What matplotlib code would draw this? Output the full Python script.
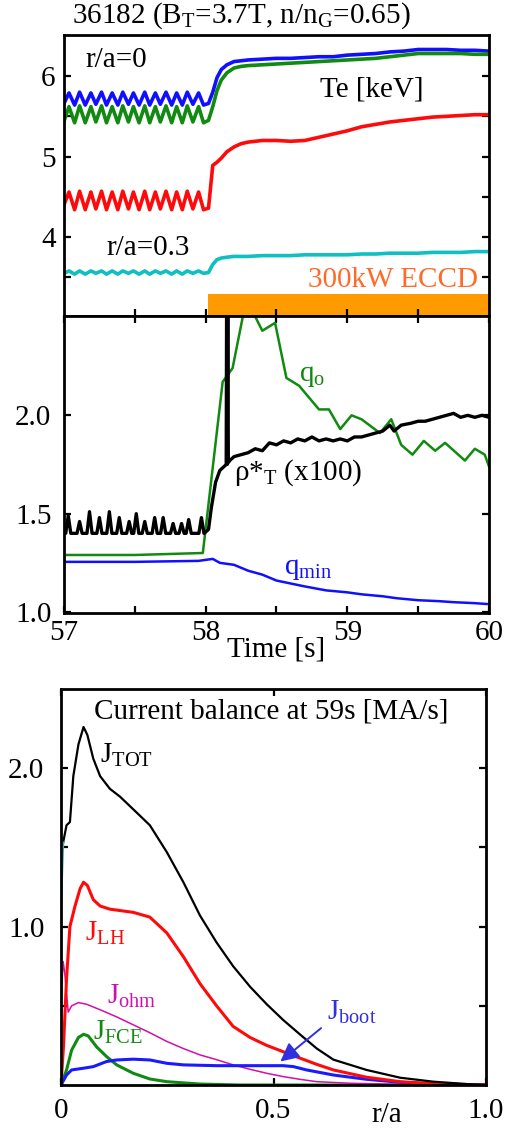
import numpy as np
import matplotlib
matplotlib.use("Agg")
import matplotlib.pyplot as plt

plt.rcParams['font.family'] = ['Liberation Serif', 'DejaVu Serif']
plt.rcParams['mathtext.fontset'] = 'custom'
plt.rcParams['mathtext.rm'] = 'Liberation Serif'
plt.rcParams['mathtext.it'] = 'Liberation Serif:italic'

# ---- top panel: Te traces [keV] ----
# sawtooth period before ECCD (troughs / peaks alternate)
t_osc = [57.000, 57.035, 57.075, 57.110, 57.150, 57.190, 57.225, 57.265, 57.300,
         57.340, 57.380, 57.415, 57.455, 57.490, 57.530, 57.570, 57.605, 57.645,
         57.680, 57.720, 57.760, 57.795, 57.835, 57.870, 57.910, 57.950, 57.985]
te_blue_osc = [5.66, 5.79, 5.64, 5.80, 5.64, 5.79, 5.65, 5.80, 5.64, 5.79, 5.64, 5.80, 5.65, 5.79,
               5.64, 5.80, 5.64, 5.79, 5.65, 5.80, 5.64, 5.79, 5.64, 5.80, 5.65, 5.79, 5.64]
te_green_osc = [5.44, 5.62, 5.42, 5.63, 5.42, 5.62, 5.43, 5.63, 5.42, 5.62, 5.42, 5.63, 5.43, 5.62,
                5.42, 5.63, 5.42, 5.62, 5.43, 5.63, 5.42, 5.62, 5.42, 5.63, 5.43, 5.62, 5.42]
te_red_osc = [4.40, 4.56, 4.34, 4.57, 4.34, 4.56, 4.35, 4.57, 4.34, 4.56, 4.34, 4.57, 4.35, 4.56,
              4.34, 4.57, 4.34, 4.56, 4.35, 4.57, 4.34, 4.56, 4.34, 4.57, 4.35, 4.56, 4.34]
te_cyan_osc = [3.55, 3.58, 3.54, 3.58, 3.54, 3.58, 3.55, 3.58, 3.54, 3.58, 3.54, 3.58, 3.55, 3.58,
               3.54, 3.58, 3.54, 3.58, 3.55, 3.58, 3.54, 3.58, 3.54, 3.58, 3.55, 3.58, 3.55]

t_post = [58.02, 58.05, 58.08, 58.11, 58.15, 58.20, 58.25, 58.30, 58.40, 58.50, 58.60, 58.70,
          58.80, 58.90, 59.00, 59.10, 59.20, 59.30, 59.40, 59.50, 59.60, 59.70, 59.80, 59.90, 60.00]
te_blue_post = [5.66, 5.80, 5.98, 6.08, 6.14, 6.18, 6.19, 6.20, 6.21, 6.22, 6.22, 6.23, 6.24,
                6.24, 6.26, 6.27, 6.28, 6.30, 6.31, 6.33, 6.33, 6.33, 6.32, 6.32, 6.31]
te_green_post = [5.45, 5.62, 5.82, 5.95, 6.04, 6.10, 6.12, 6.13, 6.14, 6.15, 6.16, 6.17, 6.18,
                 6.19, 6.20, 6.21, 6.22, 6.24, 6.26, 6.28, 6.28, 6.28, 6.28, 6.27, 6.27]
te_red_post = [4.36, 4.89, 4.93, 4.98, 5.06, 5.12, 5.16, 5.18, 5.20, 5.20, 5.19, 5.20, 5.24,
               5.28, 5.32, 5.37, 5.40, 5.43, 5.45, 5.47, 5.49, 5.50, 5.51, 5.52, 5.52]
te_cyan_post = [3.56, 3.66, 3.72, 3.74, 3.75, 3.76, 3.76, 3.76, 3.77, 3.77, 3.77, 3.78, 3.78,
                3.78, 3.78, 3.79, 3.79, 3.80, 3.80, 3.80, 3.81, 3.81, 3.81, 3.82, 3.82]

eccd_on = (58.02, 60.0)
eccd_height = (3.02, 3.29)

# ---- middle panel ----
rho_base = 1.40
rho_spike_t = [57.03, 57.11, 57.18, 57.25, 57.32, 57.39, 57.46, 57.51, 57.57, 57.64,
               57.70, 57.77, 57.83, 57.88, 57.97]
rho_spike_h = [1.49, 1.46, 1.51, 1.48, 1.51, 1.48, 1.46, 1.50, 1.46, 1.48, 1.48, 1.45,
               1.45, 1.47, 1.48]
rho_post_t = [57.99, 58.02, 58.04, 58.07, 58.10, 58.13, 58.145, 58.148, 58.152, 58.156, 58.160,
              58.17, 58.20, 58.25, 58.30, 58.35, 58.40, 58.45, 58.50, 58.55, 58.60, 58.65,
              58.70, 58.75, 58.80, 58.85, 58.90, 58.95, 59.00, 59.05, 59.10, 59.15, 59.20,
              59.25, 59.30, 59.33, 59.38, 59.45, 59.50, 59.55, 59.60, 59.65, 59.70, 59.75,
              59.80, 59.85, 59.90, 59.95, 60.00]
rho_post = [1.40, 1.42, 1.53, 1.66, 1.72, 1.74, 1.75, 2.60, 1.75, 2.60, 1.76,
            1.77, 1.79, 1.80, 1.81, 1.83, 1.82, 1.86, 1.85, 1.87, 1.86, 1.88,
            1.87, 1.89, 1.87, 1.88, 1.87, 1.88, 1.87, 1.89, 1.89, 1.90, 1.91,
            1.92, 1.95, 1.92, 1.95, 1.96, 1.97, 1.97, 1.98, 1.99, 2.00, 2.01,
            1.99, 2.00, 1.99, 2.00, 1.99]

q0_t = [57.00, 57.50, 57.98, 58.12, 58.19, 58.27, 58.33, 58.40, 58.49, 58.57, 58.66, 58.80,
        58.87, 58.95, 59.03, 59.10, 59.23, 59.31, 59.38, 59.46, 59.54, 59.62, 59.69, 59.83,
        59.90, 59.97, 60.00]
q0 = [1.29, 1.29, 1.30, 2.17, 2.24, 2.53, 2.53, 2.43, 2.47, 2.19, 2.15, 2.03,
      2.03, 1.93, 2.00, 1.98, 1.91, 1.98, 1.85, 1.80, 1.87, 1.82, 1.86, 1.77,
      1.83, 1.80, 1.74]

qmin_t = [57.00, 57.50, 57.95, 58.05, 58.10, 58.20, 58.30, 58.40, 58.50, 58.60, 58.70,
          58.85, 59.00, 59.10, 59.25, 59.35, 59.50, 59.65, 59.75, 59.90, 60.00]
qmin = [1.255, 1.255, 1.26, 1.27, 1.25, 1.24, 1.21, 1.19, 1.16, 1.145, 1.13,
        1.11, 1.10, 1.09, 1.08, 1.07, 1.06, 1.055, 1.05, 1.045, 1.04]

# ---- bottom panel: current balance at 59 s [MA/s] ----
r_tot = [0.005, 0.013, 0.021, 0.029, 0.041, 0.053, 0.062, 0.076, 0.092, 0.115, 0.139, 0.178,
         0.209, 0.249, 0.288, 0.327, 0.366, 0.405, 0.445, 0.484, 0.523, 0.562, 0.602, 0.641,
         0.719, 0.798, 0.876, 0.955, 1.0]
j_tot = [1.53, 1.64, 1.66, 1.95, 2.15, 2.26, 2.21, 2.06, 1.95, 1.87, 1.82, 1.72,
         1.64, 1.47, 1.28, 1.07, 0.90, 0.75, 0.62, 0.51, 0.41, 0.32, 0.23, 0.16,
         0.095, 0.046, 0.021, 0.006, 0.0]
r_start = [0.0, 0.005]
j_start = [1.15, 1.53]

r_lh = [0.0, 0.006, 0.013, 0.021, 0.033, 0.045, 0.053, 0.062, 0.076, 0.092, 0.115, 0.17,
        0.209, 0.249, 0.288, 0.327, 0.366, 0.405, 0.445, 0.484, 0.523, 0.562, 0.602, 0.641,
        0.719, 0.798, 0.876, 1.0]
j_lh = [0.0, 0.25, 0.67, 1.00, 1.13, 1.24, 1.28, 1.26, 1.17, 1.13, 1.11, 1.09,
        1.06, 0.96, 0.81, 0.64, 0.50, 0.37, 0.30, 0.25, 0.21, 0.17, 0.13, 0.095,
        0.049, 0.021, 0.008, 0.0]

r_ohm = [0.0, 0.005, 0.009, 0.017, 0.025, 0.041, 0.06, 0.092, 0.131, 0.17, 0.209, 0.249,
         0.288, 0.327, 0.366, 0.405, 0.445, 0.484, 0.523, 0.562, 0.602, 0.68, 0.8, 1.0]
j_ohm = [0.54, 0.78, 0.70, 0.46, 0.50, 0.52, 0.51, 0.475, 0.43, 0.38, 0.33, 0.275,
         0.23, 0.19, 0.16, 0.127, 0.099, 0.074, 0.053, 0.036, 0.021, 0.011, 0.004, 0.0]

r_fce = [0.0, 0.013, 0.025, 0.041, 0.053, 0.064, 0.084, 0.107, 0.131, 0.17, 0.209, 0.249,
         0.327, 0.42, 1.0]
j_fce = [0.0, 0.095, 0.22, 0.30, 0.32, 0.31, 0.24, 0.18, 0.127, 0.074, 0.038, 0.021,
         0.006, 0.0, 0.0]

r_boot = [0.0, 0.013, 0.025, 0.053, 0.076, 0.107, 0.131, 0.17, 0.209, 0.249, 0.288, 0.366,
          0.445, 0.523, 0.547, 0.578, 0.641, 0.719, 0.798, 0.876, 1.0]
j_boot = [0.0, 0.063, 0.095, 0.106, 0.116, 0.148, 0.158, 0.163, 0.158, 0.137, 0.127, 0.122,
          0.122, 0.122, 0.116, 0.095, 0.063, 0.036, 0.017, 0.006, 0.0]

# ---------------------------------------------------------------
fig = plt.figure(figsize=(5.07, 11.28), dpi=100)
W, H = 507.0, 1128.0
ax1 = fig.add_axes([64/W, 1-316/H, 425/W, 281/H])
ax2 = fig.add_axes([64/W, 1-613/H, 425/W, 297/H])
ax3 = fig.add_axes([61/W, 1-1085/H, 425/W, 396/H])

FS = 21
for ax in (ax1, ax2, ax3):
    for s in ax.spines.values():
        s.set_linewidth(2.0)
    ax.tick_params(direction='in', length=5, width=1.6, labelsize=FS,
                   top=True, right=True, bottom=True, left=True)

# top panel
ax1.plot(t_osc + t_post, te_blue_osc + te_blue_post, color='#1010ff', lw=2.6)
ax1.plot(t_osc + t_post, te_green_osc + te_green_post, color='#108a10', lw=2.6)
ax1.plot(t_osc + t_post, te_red_osc + te_red_post, color='#ff0a0a', lw=2.6)
ax1.plot(t_osc + t_post, te_cyan_osc + te_cyan_post, color='#10c0c0', lw=2.6)
ax1.fill_between(eccd_on, eccd_height[0], eccd_height[1], color='#ff9a00', lw=0)
ax1.set_xlim(57, 60)
ax1.set_ylim(3.02, 6.51)
ax1.set_xticks([57.5, 58, 58.5, 59, 59.5])
ax1.set_xticklabels([])
ax1.set_yticks([3.5, 4, 4.5, 5, 5.5, 6])
ax1.set_yticklabels(['', '4', '', '5', '', '6'])
ax1.tick_params(axis='y', pad=6)
ax1.tick_params(axis='x', top=False)
ax1.text(57.15, 6.20, 'r/a=0', fontsize=FS, ha='left', va='center')
ax1.text(58.81, 5.83, 'Te [keV]', fontsize=FS, ha='left', va='center')
ax1.text(57.30, 3.86, 'r/a=0.3', fontsize=FS, ha='left', va='center')
ax1.text(59.92, 3.47, '300kW ECCD', fontsize=FS, ha='right', va='center', color='#ff6a2a')
fig.text(72/W, 1-16/H, '36182 (B$_\\mathrm{T}$=3.7T, n/n$_\\mathrm{G}$=0.65)',
         fontsize=FS, ha='left', va='center')

# middle panel
rho_t, rho_v = [], []
for ts, hs in zip(rho_spike_t, rho_spike_h):
    rho_t += [ts - 0.018, ts, ts + 0.018]
    rho_v += [rho_base, hs, rho_base]
ax2.plot(q0_t, q0, color='#108a10', lw=1.8)
ax2.plot(qmin_t, qmin, color='#1010ff', lw=1.8)
ax2.plot([57.0] + rho_t + rho_post_t, [rho_base] + rho_v + rho_post, color='black', lw=2.4)
ax2.set_xlim(57, 60)
ax2.set_ylim(0.995, 2.505)
ax2.set_xticks([57, 57.5, 58, 58.5, 59, 59.5, 60])
ax2.set_xticklabels(['57', '', '58', '', '59', '', '60'])
ax2.set_yticks([1.0, 1.5, 2.0])
ax2.set_yticklabels(['1.0', '1.5', '2.0'])
ax2.tick_params(axis='y', pad=9)
ax2.tick_params(axis='x', pad=5)
ax2.set_xlabel('Time [s]', fontsize=FS, labelpad=-7)
ax2.text(58.66, 2.20, 'q$_\\mathrm{o}$', fontsize=FS, color='#108a10', ha='left', va='center')
ax2.text(58.20, 1.71, 'ρ*$_\\mathrm{T}$ (x100)', fontsize=FS, ha='left', va='center')
ax2.text(58.55, 1.22, 'q$_\\mathrm{min}$', fontsize=FS, color='#1010ff', ha='left', va='center')

# bottom panel
ax3.plot(r_fce, j_fce, color='#108a10', lw=2.2)
ax3.plot(r_ohm, j_ohm, color='#d010a8', lw=1.1)
ax3.plot(r_boot, j_boot, color='#1a1aff', lw=2.2)
ax3.plot(r_lh, j_lh, color='#ff0a0a', lw=2.2)
ax3.plot(r_tot, j_tot, color='black', lw=1.6)
ax3.plot(r_start, j_start, color='#10c0c0', lw=1.6)
ax3.annotate('', xy=(0.511, 0.137), xytext=(0.617, 0.37),
             arrowprops=dict(arrowstyle='-|>', color='#3030e0', lw=1.4, mutation_scale=28))
ax3.set_xlim(0, 1)
ax3.set_ylim(0, 2.5)
ax3.set_xticks([0, 0.5, 1.0])
ax3.set_xticklabels(['0', '0.5', '1.0'])
ax3.set_yticks([0.5, 1.0, 1.5, 2.0])
ax3.set_yticklabels(['', '1.0', '', '2.0'])
ax3.tick_params(axis='y', pad=12)
ax3.tick_params(axis='x', pad=9)
ax3.text(0.767, -0.19, 'r/a', fontsize=FS, ha='center', va='center', clip_on=False)
ax3.text(0.078, 2.36, 'Current balance at 59s [MA/s]', fontsize=FS, ha='left', va='center')
ax3.text(0.092, 2.08, 'J$_\\mathrm{TOT}$', fontsize=FS, ha='left', va='center')
ax3.text(0.056, 0.96, 'J$_\\mathrm{LH}$', fontsize=FS, color='#ff0a0a', ha='left', va='center')
ax3.text(0.108, 0.56, 'J$_\\mathrm{ohm}$', fontsize=FS, color='#d010a8', ha='left', va='center')
ax3.text(0.075, 0.33, 'J$_\\mathrm{FCE}$', fontsize=FS, color='#108a10', ha='left', va='center')
ax3.text(0.626, 0.46, 'J$_\\mathrm{boot}$', fontsize=FS, color='#3030e0', ha='left', va='center')

fig.savefig('out.png', dpi=100)
